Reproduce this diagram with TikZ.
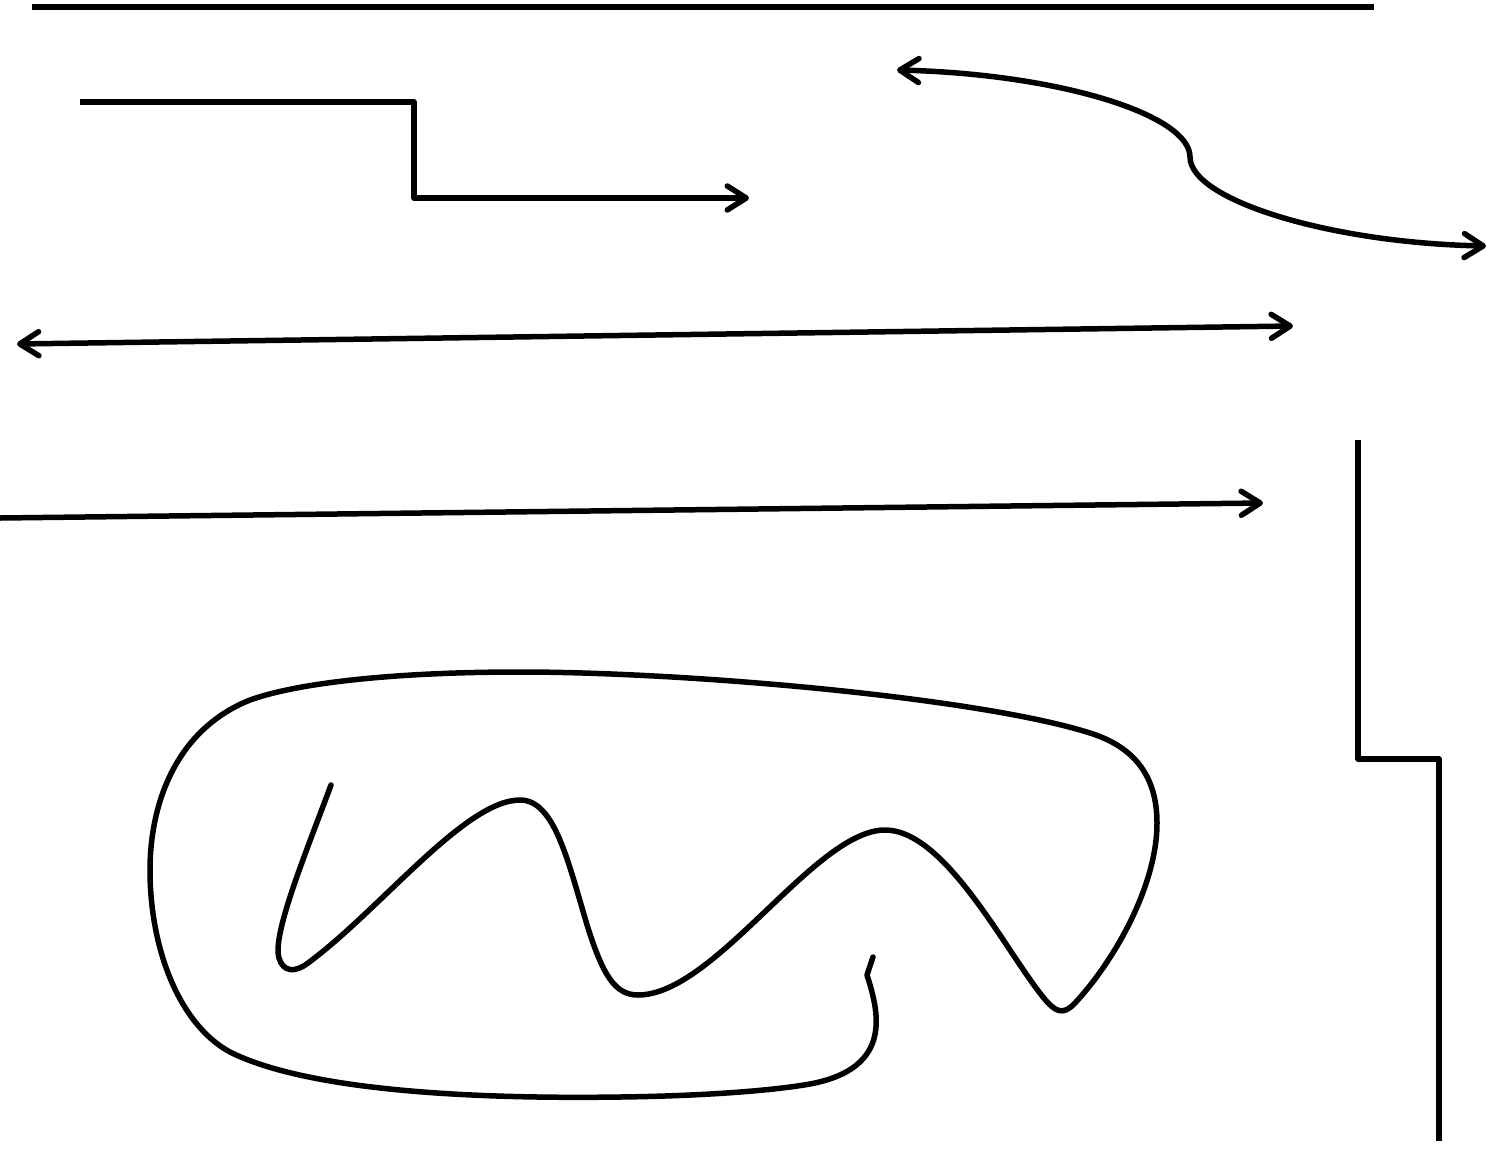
\documentclass[tikz,border=0pt]{standalone}
\usetikzlibrary{arrows.meta}
\begin{document}
\begin{tikzpicture}[x=1pt,y=-1pt,
  ln/.style={line width=5.5pt, line join=round},
  >={Straight Barb[length=19pt,width=24pt,line cap=round,line join=round]}]
\useasboundingbox (0,0) rectangle (1490,1148);
% coordinates
\coordinate (t1) at (32,7);   \coordinate (t2) at (1374,7);
\coordinate (e1) at (80,102); \coordinate (e2) at (414,102);
\coordinate (e3) at (414,198); \coordinate (e4) at (749,198);
\coordinate (s1) at (897,70); \coordinate (s2) at (1190,157); \coordinate (s3) at (1486,246);
\coordinate (d1) at (17,344); \coordinate (d2) at (1293,326);
\coordinate (a1) at (0,518); \coordinate (a2) at (1263,503);
\coordinate (v1) at (1358,440); \coordinate (v2) at (1358,759);
\coordinate (v3) at (1439,759); \coordinate (v4) at (1439,1141);
\coordinate (f0) at (331,785);  \coordinate (fe) at (873,957);
% lines
\draw[ln] (t1) -- (t2);
\draw[ln,->] (e1) -- (e2) -- (e3) -- (e4);
\draw[ln,<->] (s1) .. controls (1060,74) and (1190,115) .. (s2)
      .. controls (1190,200) and (1330,243) .. (s3);
\draw[ln,<->] (d1) -- (d2);
\draw[ln,->] (a1) -- (a2);
\draw[ln] (v1) -- (v2) -- (v3) -- (v4);
% freeform curve
\draw[ln,line cap=round] (f0)
  .. controls (305,855) and (272,935) .. (279,958)
  .. controls (283,972) and (295,973) .. (308,963)
  .. controls (380,910) and (465,800) .. (520,800)
  .. controls (555,800) and (568,862) .. (588,928)
  .. controls (603,975) and (615,995) .. (638,995)
  .. controls (715,995) and (815,830) .. (885,830)
  .. controls (945,830) and (1005,950) .. (1043,997)
  .. controls (1055,1012) and (1063,1016) .. (1075,1003)
  .. controls (1115,960) and (1157,885) .. (1157,823)
  .. controls (1157,770) and (1128,745) .. (1090,733)
  .. controls (980,698) and (690,672) .. (520,672)
  .. controls (400,672) and (300,682) .. (250,700)
  .. controls (175,730) and (150,805) .. (150,870)
  .. controls (150,950) and (180,1025) .. (230,1052)
  .. controls (310,1092) and (480,1099) .. (620,1097)
  .. controls (700,1096) and (770,1091) .. (810,1084)
  .. controls (895,1068) and (878,1010) .. (867,975)
  -- (fe);
\end{tikzpicture}
\end{document}
